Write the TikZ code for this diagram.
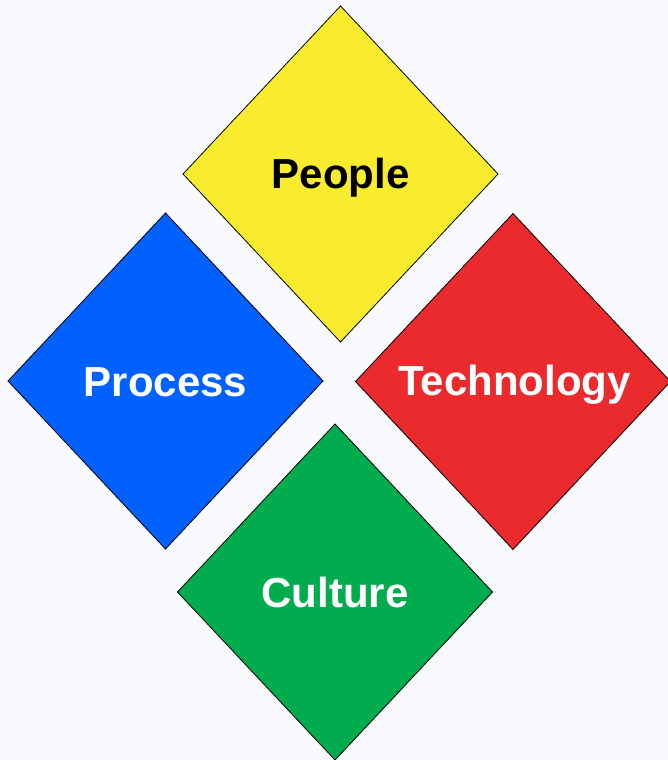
\documentclass[tikz,border=0pt]{standalone}
\usepackage{fontspec}
\setmainfont{Liberation Sans}
\definecolor{bgc}{HTML}{F8FAFD}
\definecolor{cyel}{HTML}{F9EC2E}
\definecolor{cblu}{HTML}{0061FE}
\definecolor{cred}{HTML}{EB2A2E}
\definecolor{cgrn}{HTML}{00AC4E}
\tikzset{
  dia/.style={draw=black, line width=0.8pt, line join=miter},
  lbl/.style={font=\fontsize{42}{50}\selectfont\bfseries, inner sep=0pt}
}
\newcommand{\mydiamond}[5]{%
  \fill[#5] (#1,#2-168) -- (#1+157.5,#2) -- (#1,#2+168) -- (#1-157.5,#2) -- cycle;
  \draw[dia] (#1,#2-168) -- (#1+157.5,#2) -- (#1,#2+168) -- (#1-157.5,#2) -- cycle;
}
\begin{document}
\begin{tikzpicture}[x=1pt,y=-1pt]
\fill[bgc] (0,0) rectangle (668,760);
\useasboundingbox (0,0) rectangle (668,760);
\clip (0,0) rectangle (668,760);
\mydiamond{340.5}{174}{}{}{cyel}
\mydiamond{165.5}{381}{}{}{cblu}
\mydiamond{513}{381.5}{}{}{cred}
\mydiamond{335}{592}{}{}{cgrn}
\node[lbl, text=black] (people) at (340.5,178) {People};
\node[lbl, text=white] (process) at (165.5,382) {Process};
\node[lbl, text=white] (tech) at (514.5,385) {Technology};
\node[lbl, text=white] (culture) at (335,592) {Culture};
\end{tikzpicture}
\end{document}
